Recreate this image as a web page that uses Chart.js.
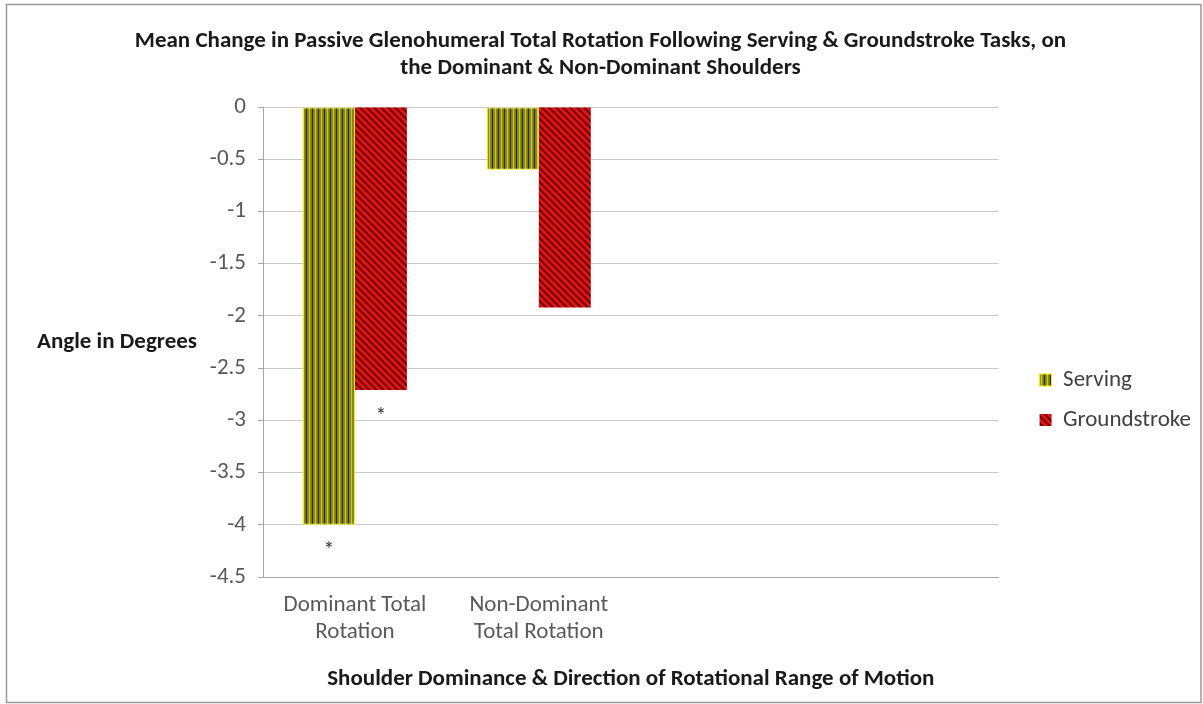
<!DOCTYPE html>
<html>
<head>
<meta charset="utf-8">
<script src="https://cdn.jsdelivr.net/npm/chart.js@4.4.1/dist/chart.umd.min.js"></script>
<style>
  html, body { margin: 0; padding: 0; background: #ffffff; }
  #wrap { position: relative; width: 1203px; height: 704px; }
</style>
</head>
<body>
<div id="wrap"><canvas id="chart" width="1203" height="704"></canvas></div>
<script>
// Categories along the x axis (the last two are empty slots)
const categories = [['Dominant Total', 'Rotation'], ['Non-Dominant', 'Total Rotation'], '', ''];

// Mean change in total rotation (degrees)
const servingValues = [-4.0, -0.6, null, null];
const groundstrokeValues = [-2.71, -1.92, null, null];

// Significance markers drawn beneath each bar
const servingMarks = ['*', '', '', ''];
const groundstrokeMarks = ['*', '', '', ''];

// Value axis
const yMin = -4.5;
const yMax = 0;
const yStep = 0.5;

const chartTitle = ['Mean Change in Passive Glenohumeral Total Rotation Following Serving & Groundstroke Tasks, on',
                    'the Dominant & Non-Dominant Shoulders'];
const yTitle = 'Angle in Degrees';
const xTitle = 'Shoulder Dominance & Direction of Rotational Range of Motion';

const FONT = "Carlito, 'Open Sans', sans-serif";

// Vertical stripes: dark / olive / yellow
function servingPattern() {
  const c = document.createElement('canvas');
  c.width = 6; c.height = 6;
  const g = c.getContext('2d');
  const cols = ['#2a2a05', '#858510', '#8e8e14', '#c8c834', '#8a8a12', '#7e7e0e'];
  cols.forEach((col, i) => { g.fillStyle = col; g.fillRect(i, 0, 1, 6); });
  return g.createPattern(c, 'repeat');
}

// Wide downward diagonal: dark red stripes on red
function groundstrokePattern() {
  const n = 7;
  const c = document.createElement('canvas');
  c.width = n; c.height = n;
  const g = c.getContext('2d');
  for (let y = 0; y < n; y++) {
    for (let x = 0; x < n; x++) {
      const d = ((x - y) % n + n) % n;
      g.fillStyle = d < 2 ? '#6a0000' : (d === 2 || d === 6 ? '#b40808' : '#e01414');
      g.fillRect(x, y, 1, 1);
    }
  }
  return g.createPattern(c, 'repeat');
}

const frameAndLabels = {
  id: 'frameAndLabels',
  beforeDraw(chart) {
    const ctx = chart.ctx;
    ctx.save();
    ctx.fillStyle = '#ffffff';
    ctx.fillRect(0, 0, chart.width, chart.height);
    ctx.strokeStyle = '#9a9a9a';
    ctx.lineWidth = 1.5;
    ctx.strokeRect(6.5, 4.5, 1194.5, 698);
    ctx.restore();
  },
  afterDraw(chart) {
    const ctx = chart.ctx;
    const area = chart.chartArea;
    ctx.save();
    // horizontal y-axis title
    ctx.font = "bold 23px " + FONT;
    ctx.fillStyle = '#1a1a1a';
    ctx.textAlign = 'left';
    ctx.textBaseline = 'middle';
    ctx.fillText(yTitle, 37, (area.top + area.bottom) / 2);
    ctx.restore();
  },
  afterDatasetsDraw(chart) {
    const ctx = chart.ctx;
    const marks = [servingMarks, groundstrokeMarks];
    ctx.save();
    ctx.font = "22px " + FONT;
    ctx.fillStyle = '#333333';
    ctx.textAlign = 'center';
    ctx.textBaseline = 'middle';
    chart.data.datasets.forEach((ds, di) => {
      const meta = chart.getDatasetMeta(di);
      meta.data.forEach((bar, i) => {
        if (marks[di][i]) ctx.fillText(marks[di][i], bar.x, bar.y + 27);
      });
    });
    ctx.restore();
  }
};

const ctx = document.getElementById('chart').getContext('2d');
new Chart(ctx, {
  type: 'bar',
  data: {
    labels: categories,
    datasets: [
      {
        label: 'Serving',
        data: servingValues,
        backgroundColor: servingPattern(),
        borderColor: '#f0f000',
        borderWidth: 1,
        borderSkipped: false
      },
      {
        label: 'Groundstroke',
        data: groundstrokeValues,
        backgroundColor: groundstrokePattern(),
        borderColor: '#7a0000',
        borderWidth: 0
      }
    ]
  },
  options: {
    responsive: false,
    animation: false,
    devicePixelRatio: 1,
    categoryPercentage: 0.565,
    barPercentage: 1.0,
    layout: { padding: { left: 0, right: 2, top: 0, bottom: 12 } },
    plugins: {
      title: {
        display: true,
        text: chartTitle,
        color: '#1a1a1a',
        font: { family: FONT, size: 23, weight: 'bold', lineHeight: 1.174 },
        padding: { top: 28, bottom: 25 }
      },
      legend: {
        position: 'right',
        align: 'center',
        title: { display: true, text: ' ', font: { size: 8, lineHeight: 1 }, padding: { top: 100, bottom: 0 } },
        labels: {
          boxWidth: 12,
          boxHeight: 12,
          padding: 17,
          color: '#404040',
          font: { family: FONT, size: 23 }
        }
      },
      tooltip: { enabled: false }
    },
    scales: {
      x: {
        grid: { display: false, drawTicks: false },
        border: { display: true, color: '#a6a6a6', width: 1 },
        ticks: {
          color: '#595959',
          font: { family: FONT, size: 23, lineHeight: 1.174 },
          padding: 15,
          maxRotation: 0,
          autoSkip: false
        },
        title: {
          display: true,
          text: xTitle,
          color: '#1a1a1a',
          font: { family: FONT, size: 23, weight: 'bold', lineHeight: 1.1 },
          padding: { top: 0, bottom: 0 }
        },
        afterFit(scale) { scale.height = 115; }
      },
      y: {
        min: yMin,
        max: yMax,
        ticks: {
          stepSize: yStep,
          color: '#595959',
          font: { family: FONT, size: 23 },
          padding: 12,
          callback: (v) => String(Math.round(v * 10) / 10)
        },
        grid: { color: '#c8c8c8', tickLength: 5, tickColor: '#a6a6a6' },
        border: { display: true, color: '#a6a6a6', width: 1 },
        afterFit(scale) { scale.width = 263; }
      },
      gap: {
        type: 'linear',
        position: 'right',
        display: true,
        grid: { display: false, drawTicks: false },
        border: { display: false },
        ticks: { display: false },
        afterFit(scale) { scale.width = 24; }
      }
    }
  },
  plugins: [frameAndLabels]
});
</script>
</body>
</html>
